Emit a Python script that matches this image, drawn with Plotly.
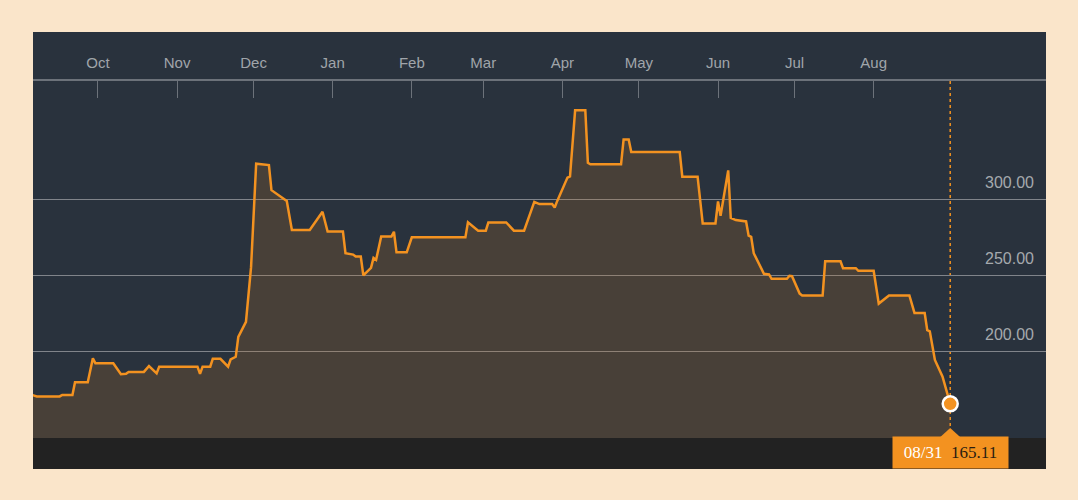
import plotly.graph_objects as go

# daily closes (Sep 2016 - Aug 2017)
dates = [
    "2016-09-05", "2016-09-07", "2016-09-16", "2016-09-17", "2016-09-21", "2016-09-22", "2016-09-27", "2016-09-29", "2016-09-30", "2016-10-07",
    "2016-10-10", "2016-10-12", "2016-10-13", "2016-10-19", "2016-10-21", "2016-10-24", "2016-10-25", "2016-11-09", "2016-11-10", "2016-11-11",
    "2016-11-14", "2016-11-15", "2016-11-18", "2016-11-21", "2016-11-22", "2016-11-24", "2016-11-25", "2016-11-28", "2016-11-30", "2016-12-02",
    "2016-12-07", "2016-12-08", "2016-12-14", "2016-12-16", "2016-12-23", "2016-12-28", "2016-12-30", "2017-01-05", "2017-01-06", "2017-01-09",
    "2017-01-10", "2017-01-12", "2017-01-13", "2017-01-16", "2017-01-17", "2017-01-18", "2017-01-20", "2017-01-24", "2017-01-25", "2017-01-26",
    "2017-01-30", "2017-02-01", "2017-02-22", "2017-02-23", "2017-02-27", "2017-03-02", "2017-03-03", "2017-03-10", "2017-03-13", "2017-03-17",
    "2017-03-21", "2017-03-23", "2017-03-28", "2017-03-29", "2017-03-30", "2017-04-03", "2017-04-04", "2017-04-06", "2017-04-10", "2017-04-11",
    "2017-04-12", "2017-04-24", "2017-04-25", "2017-04-27", "2017-04-28", "2017-05-17", "2017-05-18", "2017-05-24", "2017-05-26", "2017-05-31",
    "2017-06-01", "2017-06-02", "2017-06-05", "2017-06-06", "2017-06-08", "2017-06-12", "2017-06-13", "2017-06-14", "2017-06-15", "2017-06-19",
    "2017-06-21", "2017-06-22", "2017-06-28", "2017-06-29", "2017-06-30", "2017-07-03", "2017-07-04", "2017-07-12", "2017-07-13", "2017-07-19",
    "2017-07-20", "2017-07-25", "2017-07-26", "2017-08-01", "2017-08-03", "2017-08-07", "2017-08-15", "2017-08-17", "2017-08-21", "2017-08-22",
    "2017-08-23", "2017-08-25", "2017-08-28", "2017-08-31",
]
prices = [
    171.1, 170.0, 170.0, 171.0, 171.0, 179.4, 179.4, 195.2, 191.9, 191.9,
    184.7, 185.0, 186.2, 186.2, 190.1, 185.3, 189.7, 189.7, 184.9, 189.7,
    189.7, 194.9, 194.9, 189.7, 194.5, 196.2, 209.4, 219.3, 255.5, 323.9,
    323.0, 306.4, 299.3, 280.1, 280.1, 292.1, 279.1, 279.1, 264.7, 263.8,
    262.5, 262.5, 250.0, 255.0, 261.6, 260.3, 275.7, 275.7, 278.9, 265.3,
    265.3, 275.2, 275.2, 285.1, 279.6, 279.6, 285.1, 285.1, 279.6, 279.6,
    298.7, 297.2, 297.2, 294.9, 299.3, 314.7, 315.5, 359.2, 359.2, 324.5,
    323.5, 323.5, 339.9, 339.9, 331.6, 331.6, 315.3, 315.3, 284.4, 284.4,
    298.9, 289.5, 319.5, 288.0, 286.6, 285.7, 276.3, 275.5, 264.7, 251.1,
    250.7, 247.8, 247.8, 249.8, 249.5, 238.0, 236.8, 236.8, 259.4, 259.4,
    254.8, 254.8, 253.1, 253.1, 231.4, 236.8, 236.8, 225.2, 225.2, 213.8,
    213.0, 194.1, 183.1, 165.11,
]

x_start = "2016-09-05 13:00"
x_end = "2017-10-07 13:00"
month_ticks = [x_start, "2016-10-01", "2016-11-01", "2016-12-01", "2017-01-01", "2017-02-01", "2017-03-01",
               "2017-04-01", "2017-05-01", "2017-06-01", "2017-07-01", "2017-08-01", x_end]
month_labels = ["", "Oct", "Nov", "Dec", "Jan", "Feb", "Mar", "Apr", "May", "Jun", "Jul", "Aug", ""]

price_ticks = [200, 250, 300]
price_labels = ["200.00", "250.00", "300.00"]

y_min, y_base, y_max = 122.0, 142.5, 378.6

ORANGE = "#f39220"
PANEL = "#29323d"
BEIGE = "#fae5ca"

fig = go.Figure()

fig.add_trace(go.Scatter(
    x=dates, y=prices,
    mode="lines",
    line=dict(color=ORANGE, width=2.5),
    fill="tozeroy",
    fillcolor="rgba(200,120,40,0.2)",
    hoverinfo="skip",
))

# last value marker
fig.add_trace(go.Scatter(
    x=[dates[-1]], y=[prices[-1]],
    mode="markers",
    marker=dict(color=ORANGE, size=15, line=dict(color="white", width=2.5)),
    hoverinfo="skip",
))

shapes = [
    # top strip holding the month labels
    dict(type="rect", xref="paper", yref="paper", x0=0, x1=1, y0=0, y1=49,
         ysizemode="pixel", yanchor=1, fillcolor=PANEL, line=dict(width=0), layer="below"),
    # dotted marker line
    dict(type="line", xref="x", yref="y", x0=dates[-1], x1=dates[-1], y0=y_base, y1=y_max,
         line=dict(color=ORANGE, width=1.5, dash="dot"), layer="below"),
    # dark bottom strip
    dict(type="rect", xref="paper", yref="y", x0=0, x1=1, y0=y_min, y1=y_base,
         fillcolor="#222222", line=dict(width=0), layer="above"),
    # pointer triangle on the value tag
    dict(type="path", xref="x", yref="y", xsizemode="pixel", ysizemode="pixel",
         xanchor=dates[-1], yanchor=y_base, path="M -11 0 L 0 10 L 11 0 Z",
         fillcolor=ORANGE, line=dict(width=0), layer="above"),
]

fig.add_annotation(
    x=dates[-1], xref="x", xanchor="center",
    y=0, yref="paper", yanchor="bottom",
    width=115, height=31, borderpad=0,
    text="<span style='color:#ffffff'>08/31</span>&nbsp;&nbsp;<span style='color:#2a1d10'>165.11</span>",
    showarrow=False, bgcolor=ORANGE,
    font=dict(family="Liberation Serif", size=17),
)

fig.update_layout(
    width=1078, height=500,
    margin=dict(l=33, r=32, t=81, b=31),
    paper_bgcolor=BEIGE,
    plot_bgcolor=PANEL,
    showlegend=False,
    shapes=shapes,
    xaxis=dict(
        type="date", side="top", range=[x_start, x_end],
        tickvals=month_ticks, ticktext=month_labels,
        ticks="inside", ticklen=17, tickwidth=1, tickcolor="#6c727a",
        showline=True, linecolor="#6c727a", linewidth=1.5,
        showgrid=False, zeroline=False,
        ticklabelstandoff=5,
        tickfont=dict(family="Liberation Sans", size=15, color="#a0a5aa"),
    ),
    yaxis=dict(
        range=[y_min, y_max], side="right",
        tickvals=price_ticks, ticktext=price_labels,
        ticklabelposition="inside", ticklabelshift=-17, ticklabelstandoff=9,
        ticks="", showline=False, zeroline=False,
        showgrid=True, gridcolor="#80848a", gridwidth=1,
        tickfont=dict(family="Liberation Sans", size=16, color="#a5a9ad"),
    ),
)

fig.write_html(
    "out.html",
    config={"displayModeBar": False},
    post_script="document.body.style.margin='0';document.body.style.background='%s';" % BEIGE,
)
